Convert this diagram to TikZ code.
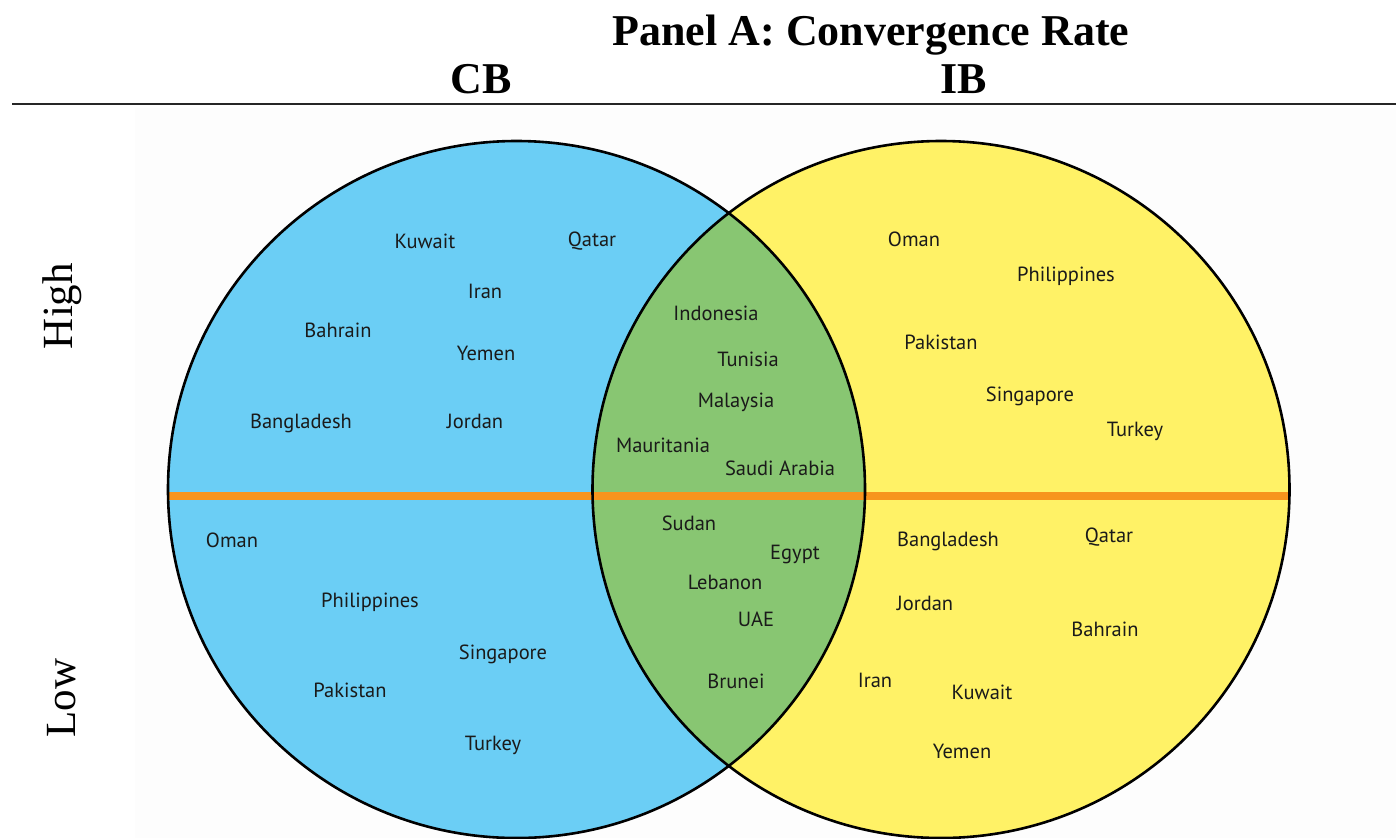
\documentclass[tikz,border=0pt]{standalone}
\usepackage{fontspec}
\setmainfont{Liberation Serif}
\newfontfamily\lblfont{PT Sans}
\definecolor{cbblue}{HTML}{6BCEF5}
\definecolor{ibyellow}{HTML}{FFF266}
\definecolor{mixgreen}{HTML}{88C672}
\definecolor{divorange}{HTML}{F7941D}
\definecolor{txt}{HTML}{1A1A1A}
\definecolor{bgpanel}{HTML}{FDFDFD}
\begin{document}
\begin{tikzpicture}[x=1pt,y=-1pt,
  country/.style={font=\lblfont\fontsize{20.5}{20.5}\selectfont, text=txt, inner sep=0pt, anchor=center},
  head/.style={font=\bfseries\fontsize{44}{44}\selectfont, inner sep=0pt, anchor=base},
  side/.style={font=\fontsize{43}{43}\selectfont, inner sep=0pt, rotate=90, anchor=center},
  outline/.style={draw=black, line width=2.6pt}]
\useasboundingbox (0,0) rectangle (1396,838);
\fill[white] (0,0) rectangle (1396,838);
\fill[bgpanel] (135,108) rectangle (1396,838);
% coordinates
\coordinate (cL) at (516.5,489.5);
\coordinate (cR) at (941,489.5);
\coordinate (oL) at (160,496);
\coordinate (oR) at (1300,496);
% fills
\fill[cbblue] (cL) circle[radius=348.5pt];
\fill[ibyellow] (cR) circle[radius=348.5pt];
\begin{scope}
  \clip (cL) circle[radius=348.5pt];
  \fill[mixgreen] (cR) circle[radius=348.5pt];
\end{scope}
% orange divider
\begin{scope}
  \clip (cL) circle[radius=348.5pt];
  \draw[divorange, line width=8pt] (oL) -- (oR);
\end{scope}
\begin{scope}
  \clip (cR) circle[radius=348.5pt];
  \draw[divorange, line width=8pt] (oL) -- (oR);
\end{scope}
% outlines
\draw[outline] (cL) circle[radius=348.5pt];
\draw[outline] (cR) circle[radius=348.5pt];
% header
\node[head] (title) at (871,45) {Panel A: Convergence Rate};
\node[head] (cb) at (481,93) {CB};
\node[head] (ib) at (964,93) {IB};
\coordinate (ruleL) at (12,104);
\coordinate (ruleR) at (1396,104);
\draw[line width=1.8pt, black!85] (ruleL) -- (ruleR);
% side labels
\node[side] (high) at (62,306) {High};
\node[side] (low) at (62,698) {Low};
% CB only, high
\node[country] (l1) at (425,241) {Kuwait};
\node[country] (l2) at (592,241) {Qatar};
\node[country] (l3) at (485,291) {Iran};
\node[country] (l4) at (338,330) {Bahrain};
\node[country] (l5) at (486,353) {Yemen};
\node[country] (l6) at (301,423) {Bangladesh};
\node[country] (l7) at (475,421) {Jordan};
% CB only, low
\node[country] (l8) at (232,540) {Oman};
\node[country] (l9) at (370,602) {Philippines};
\node[country] (l10) at (503,654) {Singapore};
\node[country] (l11) at (350,690) {Pakistan};
\node[country] (l12) at (493,745) {Turkey};
% both, high
\node[country] (m1) at (716,313) {Indonesia};
\node[country] (m2) at (748,359) {Tunisia};
\node[country] (m3) at (736,402) {Malaysia};
\node[country] (m4) at (663,445) {Mauritania};
\node[country] (m5) at (780,468) {Saudi Arabia};
% both, low
\node[country] (m6) at (689,523) {Sudan};
\node[country] (m7) at (795,554) {Egypt};
\node[country] (m8) at (725,582) {Lebanon};
\node[country] (m9) at (756,619) {UAE};
\node[country] (m10) at (736,681) {Brunei};
% IB only, high
\node[country] (r1) at (914,239) {Oman};
\node[country] (r2) at (1066,276) {Philippines};
\node[country] (r3) at (941,342) {Pakistan};
\node[country] (r4) at (1030,396) {Singapore};
\node[country] (r5) at (1135,431) {Turkey};
% IB only, low
\node[country] (r6) at (948,541) {Bangladesh};
\node[country] (r7) at (1109,537) {Qatar};
\node[country] (r8) at (925,603) {Jordan};
\node[country] (r9) at (1105,629) {Bahrain};
\node[country] (r10) at (875,680) {Iran};
\node[country] (r11) at (982,692) {Kuwait};
\node[country] (r12) at (962,751) {Yemen};
\end{tikzpicture}
\end{document}
